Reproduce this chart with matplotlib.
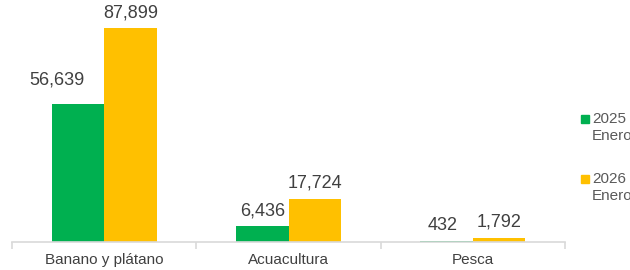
import numpy as np
import matplotlib
matplotlib.use('agg')
from matplotlib import pyplot as plt
from matplotlib.patches import Rectangle

plt.rcParams['font.family'] = ['Liberation Sans', 'DejaVu Sans']

categories = ['Banano y plátano', 'Acuacultura', 'Pesca']
values2025 = [56639, 6436, 432]
values2026 = [87899, 17724, 1792]
seriesNames = ['2025\nEnero-Febrero', '2026\nEnero-Febrero']
green = '#00B050'
yellow = '#FFC000'

fig = plt.figure(figsize=(6.3, 2.7), dpi=100)
ax = fig.add_axes([12 / 630., 28 / 270., 553 / 630., 242 / 270.])

x = np.arange(len(categories))
width = 0.285

bars1 = ax.bar(x - width / 2, values2025, width, color=green)
bars2 = ax.bar(x + width / 2, values2026, width, color=yellow)

# label offsets in points (the big green label is pushed up-left like in the original)
offsets1 = [(-15, 11), (0, 5), (-3, 5)]
offsets2 = [(0, 5), (0, 5), (0, 5)]

for bars, vals, offs in [(bars1, values2025, offsets1), (bars2, values2026, offsets2)]:
    for b, v, off in zip(bars, vals, offs):
        ax.annotate('{:,}'.format(v), (b.get_x() + b.get_width() / 2, v),
                    xytext=off, textcoords='offset points', ha='center', va='bottom',
                    fontsize=13, color='#404040', annotation_clip=False)

ax.set_xlim(-0.5, len(categories) - 0.5)
ax.set_ylim(0, 99400)
ax.set_yticks([])
for s in ['top', 'right', 'left']:
    ax.spines[s].set_visible(False)
ax.spines['bottom'].set_color('#D9D9D9')
ax.spines['bottom'].set_linewidth(1.2)

ax.set_xticks(np.arange(len(categories) + 1) - 0.5, minor=False)
ax.set_xticklabels([])
ax.tick_params(axis='x', which='major', length=5, color='#D9D9D9', width=1.2)
ax.set_xticks(x, minor=True)
ax.set_xticklabels(categories, minor=True)
ax.tick_params(axis='x', which='minor', length=0, pad=8, labelsize=11, labelcolor='#404040')

# legend drawn by hand, square lines up with the first text line
for i, (name, col) in enumerate(zip(seriesNames, [green, yellow])):
    yTop = 114 + 60 * i
    fig.patches.append(Rectangle((581 / 630., 1 - (yTop + 9) / 270.), 8 / 630., 8 / 270.,
                                 transform=fig.transFigure, color=col, figure=fig))
    fig.text(592 / 630., 1 - (yTop - 2) / 270., name, ha='left', va='top',
             fontsize=11, color='#595959', linespacing=1.25)

fig.savefig('out.png', dpi=100)
